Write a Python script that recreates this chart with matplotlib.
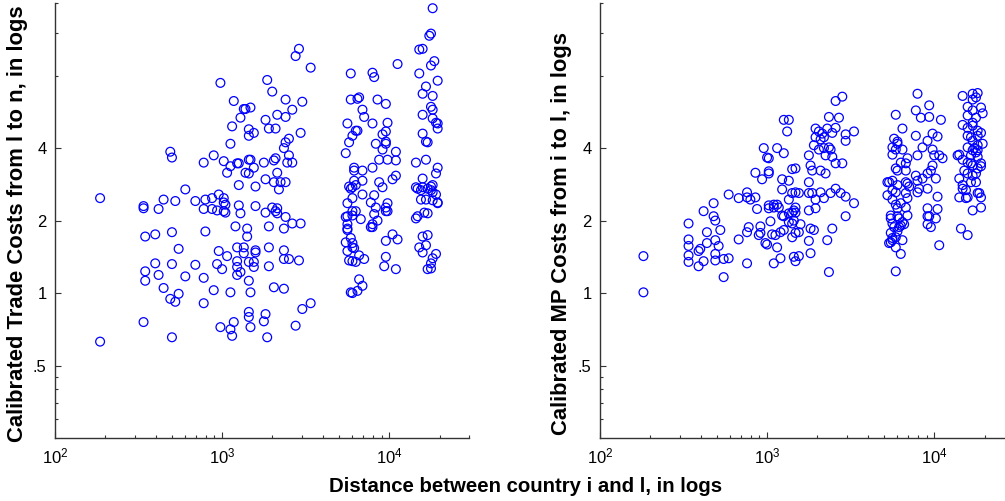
import matplotlib.pyplot as plt
import numpy as np
from matplotlib.ticker import FixedLocator, NullFormatter, FixedFormatter

plt.rcParams['font.family'] = ['Liberation Sans', 'DejaVu Sans']

# Left panel: log10 distance (km) and log2 calibrated trade cost
trade_log10_dist = [
    4.26, 4.25, 4.24, 3.46, 3.44, 4.18, 4.20, 3.53, 4.27, 4.25, 4.05, 3.77, 3.90, 3.91, 4.18, 4.29,
    3.27, 2.99, 4.22, 4.20, 3.30, 4.26, 3.82, 3.81, 3.77, 3.93, 3.38, 3.48, 3.07, 3.98, 4.25, 4.26,
    3.13, 3.14, 3.17, 3.42, 3.84, 3.85, 3.33, 4.20, 3.11, 3.38, 4.26, 4.28, 4.29, 3.26, 3.75, 3.90,
    3.99, 3.06, 3.28, 3.32, 3.81, 3.80, 4.29, 3.16, 3.19, 3.16, 3.98, 3.96, 3.47, 3.78, 4.20, 3.92,
    3.98, 3.98, 4.22, 4.23, 3.76, 3.40, 3.38, 3.37, 3.05, 3.74, 4.04, 3.96, 2.69, 2.70, 2.95, 2.89,
    3.01, 3.05, 3.10, 3.09, 3.16, 3.17, 3.19, 3.25, 3.31, 3.32, 3.40, 3.39, 3.42, 3.94, 4.04, 3.99,
    4.16, 4.22, 3.90, 3.79, 3.79, 4.29, 3.03, 3.14, 3.16, 3.33, 4.28, 3.84, 4.04, 3.26, 4.02, 4.20,
    3.31, 3.38, 3.35, 3.94, 3.79, 3.84, 3.10, 3.20, 3.76, 3.77, 3.78, 3.80, 3.96, 4.16, 4.17, 4.19,
    4.20, 4.23, 4.25, 4.26, 4.25, 4.26, 3.34, 2.78, 4.28, 4.26, 4.29, 4.29, 3.84, 3.91, 2.98, 3.01,
    2.27, 2.65, 2.72, 2.84, 2.90, 2.94, 3.78, 4.19, 4.22, 3.75, 3.89, 3.01, 3.02, 3.02, 3.01, 3.10,
    2.53, 2.53, 3.20, 3.99, 3.30, 3.33, 3.32, 3.33, 2.62, 2.89, 2.94, 2.97, 3.98, 3.99, 3.98, 3.92,
    3.78, 3.80, 3.26, 3.11, 4.21, 4.23, 3.91, 3.78, 3.75, 3.74, 3.38, 3.93, 3.83, 3.47, 3.42, 4.16,
    4.17, 3.28, 3.08, 3.90, 3.90, 3.89, 3.75, 3.75, 3.37, 3.15, 3.15, 2.90, 2.70, 4.02, 4.05, 3.98,
    4.20, 4.22, 4.18, 2.54, 2.60, 3.77, 3.78, 3.78, 2.74, 3.09, 3.13, 3.20, 3.28, 3.37, 2.98, 3.75,
    4.23, 4.20, 3.74, 3.75, 3.79, 3.03, 3.13, 3.20, 3.82, 3.98, 4.28, 4.26, 4.25, 4.25, 4.23, 2.60,
    2.70, 2.84, 2.97, 3.00, 3.09, 3.09, 3.11, 3.09, 3.16, 3.19, 3.19, 3.28, 3.37, 3.40, 3.46, 3.76,
    3.78, 3.80, 3.85, 3.97, 4.04, 2.54, 2.62, 2.54, 2.78, 2.89, 3.16, 3.82, 2.65, 2.95, 3.05, 3.17,
    3.31, 3.37, 3.77, 3.78, 3.81, 3.84, 2.74, 2.69, 2.72, 2.89, 2.53, 3.16, 3.16, 3.26, 3.25, 3.07,
    3.05, 3.06, 2.99, 3.17, 3.48, 3.53, 3.44, 2.70, 3.27, 2.27,
]
trade_log2_cost = [
    3.93, 3.58, 3.55, 3.37, 3.27, 3.36, 3.37, 3.11, 3.20, 3.14, 3.16, 3.03, 3.04, 2.98, 3.03, 2.93,
    2.94, 2.90, 2.85, 2.75, 2.78, 2.72, 2.70, 2.68, 2.67, 2.67, 2.67, 2.64, 2.65, 2.61, 2.57, 2.53,
    2.54, 2.54, 2.56, 2.53, 2.53, 2.43, 2.46, 2.46, 2.42, 2.43, 2.41, 2.35, 2.34, 2.39, 2.34, 2.34,
    2.35, 2.30, 2.27, 2.27, 2.24, 2.24, 2.27, 2.26, 2.21, 2.17, 2.23, 2.19, 2.21, 2.17, 2.20, 2.06,
    2.09, 2.06, 2.09, 2.08, 2.08, 2.13, 2.08, 2.00, 2.06, 1.93, 1.95, 1.98, 1.95, 1.87, 1.90, 1.80,
    1.82, 1.75, 1.79, 1.79, 1.84, 1.84, 1.73, 1.80, 1.83, 1.86, 1.90, 1.80, 1.80, 1.84, 1.83, 1.84,
    1.80, 1.84, 1.73, 1.73, 1.69, 1.73, 1.66, 1.66, 1.65, 1.66, 1.65, 1.69, 1.62, 1.57, 1.57, 1.58,
    1.53, 1.53, 1.53, 1.53, 1.55, 1.55, 1.49, 1.47, 1.47, 1.44, 1.46, 1.49, 1.46, 1.46, 1.44, 1.42,
    1.46, 1.44, 1.47, 1.49, 1.42, 1.39, 1.43, 1.43, 1.36, 1.28, 1.24, 1.25, 1.36, 1.35, 1.36, 1.31,
    1.31, 1.29, 1.27, 1.27, 1.29, 1.31, 1.31, 1.29, 1.29, 1.24, 1.25, 1.25, 1.22, 1.11, 1.13, 1.21,
    1.20, 1.17, 1.20, 1.24, 1.18, 1.17, 1.13, 1.10, 1.16, 1.16, 1.16, 1.14, 1.18, 1.13, 1.13, 1.18,
    1.13, 1.13, 1.11, 1.10, 1.11, 1.10, 1.09, 1.07, 1.06, 1.05, 1.05, 1.00, 1.02, 0.96, 0.96, 1.03,
    1.06, 0.92, 0.92, 0.95, 0.91, 0.91, 0.95, 0.89, 0.89, 0.89, 0.78, 0.85, 0.84, 0.81, 0.74, 0.72,
    0.78, 0.66, 0.63, 0.78, 0.81, 0.76, 0.69, 0.63, 0.61, 0.63, 0.63, 0.59, 0.63, 0.59, 0.58, 0.87,
    0.80, 0.56, 0.70, 0.58, 0.62, 0.51, 0.55, 0.56, 0.52, 0.50, 0.54, 0.48, 0.41, 0.34, 0.33, 0.41,
    0.40, 0.39, 0.40, 0.33, 0.44, 0.36, 0.29, 0.25, 0.43, 0.43, 0.36, 0.37, 0.47, 0.47, 0.45, 0.45,
    0.44, 0.43, 0.47, 0.37, 0.33, 0.30, 0.25, 0.17, 0.23, 0.21, 0.17, 0.19, 0.07, 0.04, 0.01, 0.01,
    0.08, 0.06, 0.01, 0.00, 0.03, 0.10, -0.01, -0.08, -0.12, -0.14, -0.40, -0.26, -0.33, -0.29, -0.39, -0.40,
    -0.50, -0.59, -0.47, -0.47, -0.22, -0.14, -0.45, -0.61, -0.61, -0.67,
]

# Right panel: log10 distance (km) and log2 calibrated MP cost
mp_log10_dist = [
    4.17, 4.23, 4.26, 4.25, 4.23, 3.90, 3.45, 3.41, 3.89, 3.92, 3.97, 3.97, 3.77, 4.04, 4.20, 4.23,
    4.28, 4.29, 4.25, 3.37, 3.43, 3.10, 3.13, 3.12, 3.29, 3.31, 3.33, 3.34, 3.32, 3.29, 3.36, 3.39,
    3.41, 3.47, 3.47, 3.52, 3.81, 3.89, 3.96, 3.99, 4.02, 3.76, 3.78, 3.78, 3.93, 2.98, 3.06, 3.10,
    3.28, 3.31, 3.34, 3.37, 3.38, 3.25, 3.35, 3.39, 3.75, 3.75, 3.77, 3.81, 3.90, 3.99, 4.00, 4.03,
    4.05, 4.14, 3.00, 3.01, 3.45, 3.41, 3.80, 3.84, 3.83, 3.83, 3.78, 3.77, 3.99, 3.98, 3.96, 3.89,
    3.90, 3.93, 2.93, 3.01, 3.01, 3.15, 3.17, 3.09, 3.13, 3.35, 3.25, 3.26, 3.27, 3.32, 3.72, 3.73,
    3.75, 3.83, 4.01, 4.15, 4.17, 4.17, 4.19, 2.97, 3.78, 3.84, 3.85, 3.75, 3.77, 3.91, 3.90, 3.96,
    2.77, 2.88, 2.88, 2.90, 2.83, 2.93, 3.09, 3.15, 3.17, 3.19, 3.13, 3.25, 3.27, 3.32, 3.29, 3.34,
    3.38, 3.41, 3.44, 3.47, 3.52, 3.72, 3.75, 3.83, 3.84, 3.80, 4.15, 4.19, 4.20, 4.28, 4.26, 4.02,
    2.68, 2.94, 3.01, 3.01, 3.04, 3.06, 3.04, 3.07, 3.09, 3.10, 3.13, 3.15, 3.16, 3.17, 3.17, 3.25,
    3.29, 3.77, 3.78, 3.83, 3.96, 3.96, 4.02, 4.23, 4.28, 2.62, 2.68, 2.69, 3.47, 3.74, 3.74, 3.78,
    3.79, 4.01, 3.97, 3.02, 3.13, 3.15, 3.16, 3.84, 2.53, 3.75, 3.76, 3.81, 3.82, 3.96, 3.98, 3.20,
    4.16, 4.20, 2.64, 2.72, 2.83, 2.88, 2.89, 2.95, 2.96, 2.96, 2.99, 3.00, 3.03, 3.05, 3.08, 3.10,
    3.15, 3.17, 3.19, 3.25, 3.26, 3.28, 3.36, 3.39, 3.74, 3.75, 3.75, 3.77, 3.78, 3.79, 3.80, 3.74,
    3.73, 3.81, 4.03, 2.53, 2.53, 2.60, 2.69, 2.71, 2.64, 3.06, 2.53, 2.53, 2.59, 2.59, 2.62, 2.69,
    2.69, 2.74, 2.77, 2.74, 2.88, 3.04, 3.08, 3.16, 3.17, 3.19, 3.26, 3.37, 2.26, 2.26, 3.77, 3.80,
    3.77, 4.23, 4.17, 4.20, 4.23, 4.26, 4.28, 4.20, 4.22, 4.26, 4.23, 4.29, 4.26, 4.20, 4.23, 4.24,
    4.26, 4.15, 4.22, 4.25, 4.26, 4.17, 4.20, 4.22, 4.23, 4.26, 4.28, 4.18, 4.20, 4.23, 4.25, 4.28,
    4.22, 4.25, 4.27, 4.20,
]
mp_log2_cost = [
    2.72, 2.75, 2.76, 2.70, 2.67, 2.75, 2.71, 2.65, 2.52, 2.42, 2.59, 2.43, 2.46, 2.39, 2.57, 2.52,
    2.56, 2.48, 2.42, 2.43, 2.42, 2.39, 2.39, 2.23, 2.27, 2.23, 2.20, 2.15, 2.12, 2.15, 2.27, 2.21,
    2.28, 2.19, 2.10, 2.23, 2.27, 2.17, 2.10, 2.20, 2.16, 2.13, 2.09, 2.06, 2.01, 2.00, 2.00, 1.93,
    2.04, 1.98, 2.00, 2.01, 1.98, 1.90, 1.90, 1.88, 2.01, 1.91, 1.98, 1.98, 1.90, 1.98, 1.90, 1.90,
    1.86, 1.90, 1.87, 1.86, 1.79, 1.79, 1.80, 1.86, 1.79, 1.69, 1.69, 1.72, 1.76, 1.69, 1.65, 1.62,
    1.55, 1.58, 1.66, 1.68, 1.65, 1.71, 1.72, 1.57, 1.55, 1.65, 1.53, 1.76, 1.69, 1.69, 1.53, 1.53,
    1.55, 1.53, 1.58, 1.58, 1.49, 1.44, 1.42, 1.57, 1.49, 1.51, 1.47, 1.42, 1.39, 1.44, 1.39, 1.44,
    1.36, 1.39, 1.32, 1.29, 1.31, 1.32, 1.43, 1.38, 1.39, 1.38, 1.29, 1.38, 1.38, 1.39, 1.29, 1.31,
    1.38, 1.44, 1.38, 1.33, 1.24, 1.35, 1.29, 1.38, 1.31, 1.24, 1.32, 1.31, 1.32, 1.32, 1.38, 1.33,
    1.24, 1.16, 1.21, 1.17, 1.22, 1.22, 1.18, 1.18, 1.07, 1.06, 1.10, 1.11, 1.14, 1.11, 1.18, 1.14,
    1.17, 1.22, 1.17, 1.18, 1.17, 1.06, 1.16, 1.14, 1.18, 1.13, 1.06, 1.00, 1.06, 1.07, 1.03, 1.06,
    1.03, 1.03, 1.06, 0.99, 0.98, 0.96, 1.00, 1.07, 0.96, 0.96, 0.91, 0.98, 0.95, 0.95, 0.91, 0.95,
    0.89, 0.80, 0.84, 0.87, 0.74, 0.84, 0.91, 0.80, 0.83, 0.92, 0.69, 0.67, 0.81, 0.80, 0.84, 0.87,
    0.77, 0.83, 0.84, 0.72, 0.89, 0.87, 0.73, 0.89, 0.83, 0.76, 0.73, 0.77, 0.85, 0.91, 0.93, 0.70,
    0.69, 0.73, 0.66, 0.74, 0.65, 0.61, 0.73, 0.65, 0.69, 0.63, 0.52, 0.43, 0.58, 0.37, 0.44, 0.54,
    0.45, 0.47, 0.48, 0.22, 0.41, 0.41, 0.48, 0.50, 0.44, 0.51, 0.55, 0.29, 0.51, 0.01, 0.63, 0.54,
    0.30, 2.35, 2.32, 2.28, 2.31, 2.24, 2.21, 2.17, 2.15, 2.17, 2.10, 2.06, 2.04, 2.01, 1.97, 2.00,
    1.97, 1.91, 1.90, 1.94, 1.88, 1.84, 1.80, 1.79, 1.76, 1.72, 1.75, 1.69, 1.65, 1.62, 1.65, 1.79,
    1.53, 1.53, 1.38, 2.45,
]

y_major = [0.5, 1, 2, 4]
y_major_labels = ['.5', '1', '2', '4']
y_minor = [0.3, 0.35, 0.4, 0.45, 8, 12, 16]

fig = plt.figure(figsize=(10.05, 5.01), dpi=100)
ax1 = fig.add_axes([0.0547, 0.1257, 0.4119, 0.868])
ax2 = fig.add_axes([0.597, 0.1257, 0.4119, 0.868])

panels = [
    (ax1, trade_log10_dist, trade_log2_cost),
    (ax2, mp_log10_dist, mp_log2_cost),
]

for ax, d, c in panels:
    ax.scatter(10 ** np.array(d), 2 ** np.array(c), s=40, facecolors='none',
               edgecolors='#0000ff', linewidths=0.9, clip_on=False)
    ax.set_xscale('log')
    ax.set_yscale('log')
    ax.set_xlim(100, 30000)
    ax.set_ylim(0.25, 16)
    ax.yaxis.set_major_locator(FixedLocator(y_major))
    ax.yaxis.set_major_formatter(FixedFormatter(y_major_labels))
    ax.yaxis.set_minor_locator(FixedLocator(y_minor))
    ax.yaxis.set_minor_formatter(NullFormatter())
    ax.xaxis.set_minor_formatter(NullFormatter())
    for side in ['top', 'right']:
        ax.spines[side].set_visible(False)
    for side in ['left', 'bottom']:
        ax.spines[side].set_color('#333333')
        ax.spines[side].set_linewidth(1.0)
    ax.tick_params(which='major', direction='in', length=4, width=0.8, labelsize=12,
                   colors='#333333', labelcolor='black', pad=6)
    ax.tick_params(which='minor', direction='in', length=2.5, width=0.8, colors='#333333')

# axis titles placed to match the original layout
fig.text(18 / 1005, 1 - 224 / 501, 'Calibrated Trade Costs from l to n, in logs', rotation=90,
         ha='center', va='center', fontsize=15.8, fontweight='bold')
fig.text(562 / 1005, 1 - 233 / 501, 'Calibrated MP Costs from i to l, in logs', rotation=90,
         ha='center', va='center', fontsize=15.8, fontweight='bold')
fig.text(526 / 1005, 1 - 487 / 501, 'Distance between country i and l, in logs', ha='center',
         va='center', fontsize=14.7, fontweight='bold')

plt.savefig('out.png', dpi=100)
plt.close()
